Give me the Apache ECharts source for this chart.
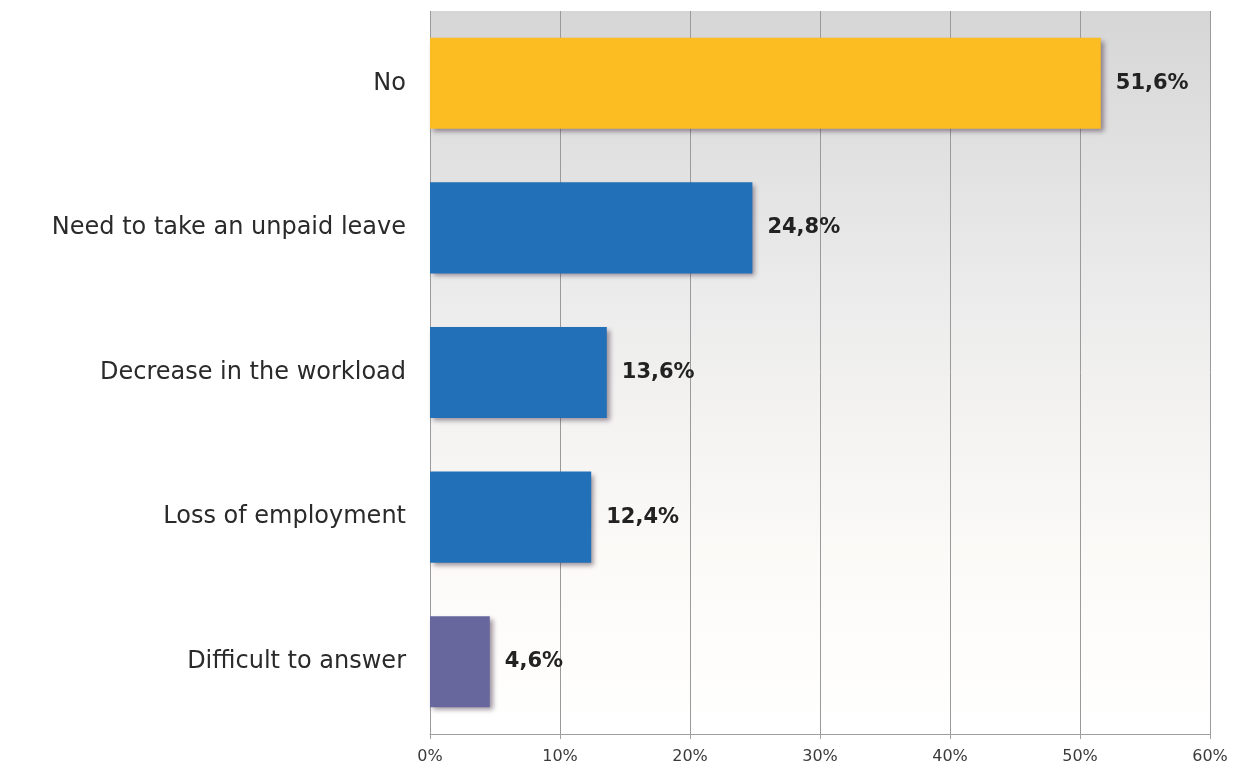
<!DOCTYPE html>
<html>
<head>
<meta charset="utf-8">
<script src="https://cdn.jsdelivr.net/npm/echarts@6/dist/echarts.min.js"></script>
<style>
  html, body { margin: 0; padding: 0; background: #ffffff; }
  #chart { width: 1239px; height: 769px; }
</style>
</head>
<body>
<div id="chart"></div>
<script>
// Survey answers, listed top to bottom
const categories = [
  'No',
  'Need to take an unpaid leave',
  'Decrease in the workload',
  'Loss of employment',
  'Difficult to answer'
];
const values = [51.6, 24.8, 13.6, 12.4, 4.6];
const barColors = ['#FCBD22', '#2270B7', '#2270B7', '#2270B7', '#67679E'];
const xTicks = [0, 10, 20, 30, 40, 50, 60];

const chart = echarts.init(document.getElementById('chart'), null, { renderer: 'canvas' });

const fmtPct = v => String(v).replace('.', ',') + '%';

chart.setOption({
  animation: false,
  grid: {
    left: 430, right: 29, top: 11, bottom: 35,
    show: true,
    borderWidth: 0,
    backgroundColor: {
      type: 'linear', x: 0, y: 0, x2: 0, y2: 1,
      colorStops: [
        { offset: 0, color: '#D6D6D6' },
        { offset: 0.4, color: '#ECECEC' },
        { offset: 0.75, color: '#FCFAF7' },
        { offset: 1, color: '#FFFFFF' }
      ]
    }
  },
  xAxis: {
    type: 'value',
    min: 0, max: 60, interval: 10,
    axisLine: { show: true, lineStyle: { color: '#A0A0A0', width: 1 } },
    axisTick: { show: true, length: 5, lineStyle: { color: '#A0A0A0' } },
    splitLine: { show: true, lineStyle: { color: '#9A9A9A', width: 1 } },
    axisLabel: {
      color: '#3a3a3a',
      fontFamily: 'DejaVu Sans',
      fontSize: 16,
      margin: 15,
      formatter: v => xTicks.includes(v) ? v + '%' : ''
    }
  },
  yAxis: {
    type: 'category',
    data: categories,
    inverse: true,
    axisLine: { show: false },
    axisTick: { show: false },
    axisLabel: {
      color: '#2a2a2a',
      fontFamily: 'DejaVu Sans',
      fontSize: 24,
      margin: 24
    }
  },
  series: [{
    type: 'bar',
    data: values.map((v, i) => ({
      value: v,
      itemStyle: { color: barColors[i] }
    })),
    barWidth: '63%',
    itemStyle: {
      shadowColor: 'rgba(60,40,60,0.5)',
      shadowBlur: 5,
      shadowOffsetX: 3,
      shadowOffsetY: 3
    },
    label: {
      show: true,
      position: 'right',
      distance: 15,
      color: '#222',
      fontFamily: 'DejaVu Sans',
      fontWeight: 'bold',
      fontSize: 21,
      formatter: p => fmtPct(p.value)
    }
  }]
});
</script>
</body>
</html>
